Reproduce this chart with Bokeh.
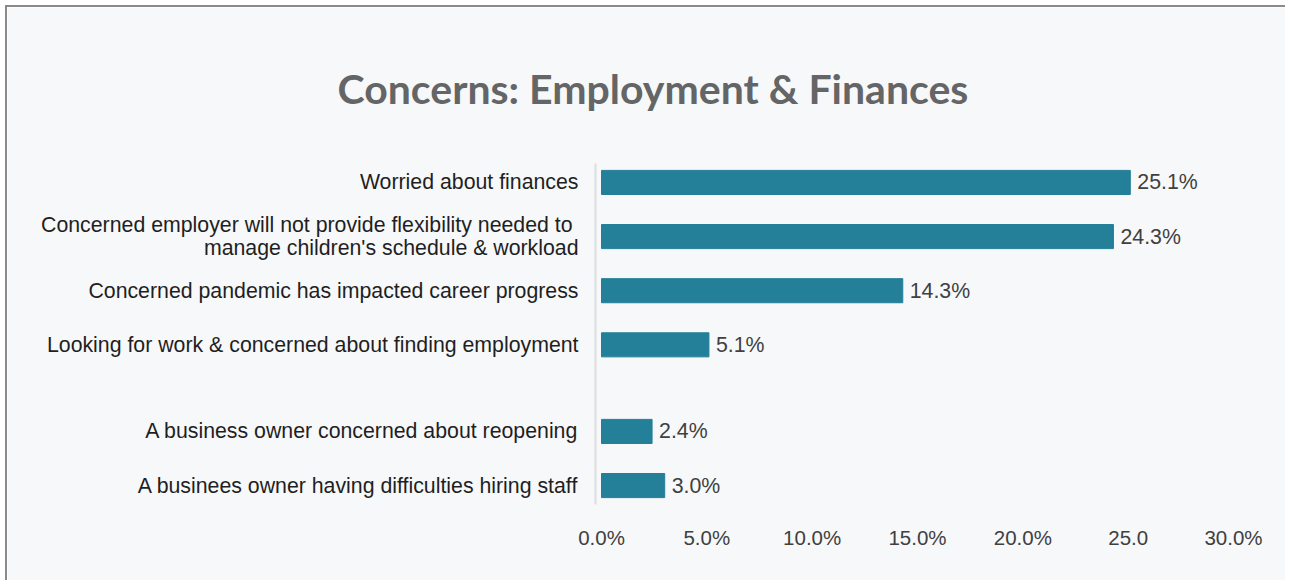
from bokeh.plotting import figure
from bokeh.models import FactorRange, FixedTicker, ColumnDataSource
from bokeh.core.properties import value
from bokeh.embed import file_html
from bokeh.resources import INLINE

# ---- data (top to bottom as in the reference) ----
groups = ["a", "a", "a", "a", "b", "b"]
categories = [
    "Worried about finances",
    "Concerned employer will not provide flexibility needed to \nmanage children's schedule & workload",
    "Concerned pandemic has impacted career progress",
    "Looking for work & concerned about finding employment",
    "A business owner concerned about reopening",
    "A businees owner having difficulties hiring staff",
]
values = [25.1, 24.3, 14.3, 5.1, 2.4, 3.0]
value_labels = ["25.1%", "24.3%", "14.3%", "5.1%", "2.4%", "3.0%"]
x_ticks = [0, 5, 10, 15, 20, 25, 30]
x_tick_labels = ["0.0%", "5.0%", "10.0%", "15.0%", "20.0%", "25.0", "30.0%"]

factors = list(zip(groups, categories))

src = ColumnDataSource(dict(y=factors, v=values, lab=value_labels))

yr = FactorRange(factors=list(reversed(factors)), factor_padding=0.0,
                 group_padding=0.6, range_padding=-0.15, range_padding_units="absolute")

p = figure(width=1280, height=575, y_range=yr, x_range=(-0.285, 31.66),
           output_backend="svg", toolbar_location=None,
           background_fill_color="#f7f8fa", border_fill_color="#f7f8fa",
           min_border_left=588, min_border_top=156, min_border_bottom=78,
           min_border_right=19)

p.outline_line_color = None

p.hbar(y="y", right="v", left=0, height=0.445, source=src, color="#247f99")
p.text(x="v", y="y", text="lab", source=src, x_offset=7,
       text_align="left", text_baseline="middle",
       text_font=value("Liberation Sans"), text_font_size="21.3px",
       text_color="#404040")

# title
p.title.text = "Concerns: Employment & Finances"
p.title.align = "left"
p.title.offset = -258
p.title.text_font = "Lato"
p.title.text_font_style = "bold"
p.title.text_font_size = "41px"
p.title.text_color = "#646567"
p.title.standoff = 102

# x axis
xa = p.xaxis[0]
xa.ticker = FixedTicker(ticks=x_ticks)
xa.major_label_overrides = {t: l for t, l in zip(x_ticks, x_tick_labels)}
xa.axis_line_color = None
xa.major_tick_line_color = None
xa.minor_tick_line_color = None
xa.major_tick_out = 0
xa.major_tick_in = 0
xa.major_label_standoff = 21
xa.major_label_text_font = "Liberation Sans"
xa.major_label_text_font_size = "20.5px"
xa.major_label_text_color = "#404040"

# y axis
ya = p.yaxis[0]
ya.axis_line_color = "#dcdddf"
ya.axis_line_width = 2
ya.major_tick_line_color = None
ya.minor_tick_line_color = None
ya.major_tick_out = 0
ya.major_tick_in = 0
ya.major_label_standoff = 17
ya.major_label_text_font = "Liberation Sans"
ya.major_label_text_font_size = "21.3px"
ya.major_label_text_line_height = 0.95
ya.major_label_text_color = "#1f1f1f"
ya.group_text_font_size = "0px"
ya.group_text_color = None
ya.separator_line_color = None

p.xgrid.grid_line_color = None
p.ygrid.grid_line_color = None

p.styles = {"border-top": "2px solid #8a8a8a", "border-left": "2px solid #8a8a8a",
            "margin-left": "5px", "margin-top": "5px"}

open("out.html", "w").write(file_html(p, INLINE))
